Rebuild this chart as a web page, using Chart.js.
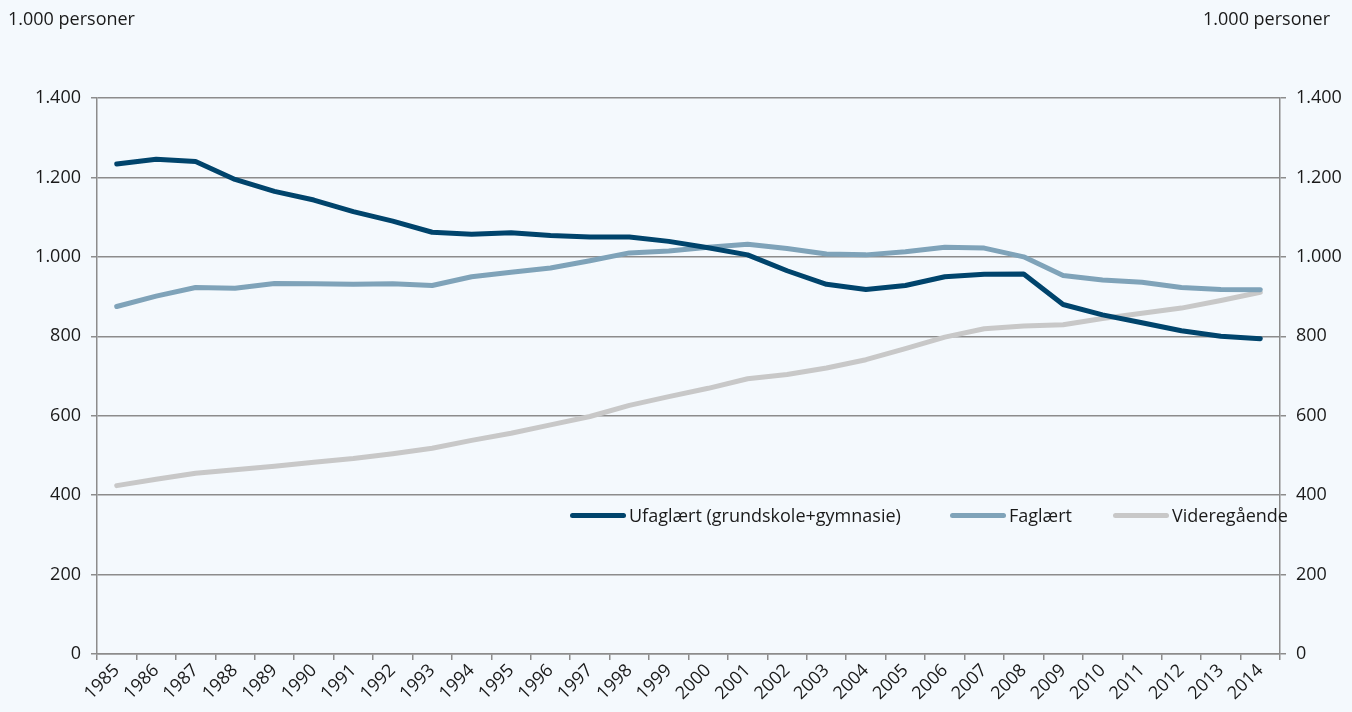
<!DOCTYPE html>
<html lang="da">
<head>
<meta charset="utf-8">
<script src="https://cdn.jsdelivr.net/npm/chart.js@4"></script>
<style>
  html, body { margin: 0; padding: 0; background: #f4f9fd; }
  #wrap { position: relative; width: 1352px; height: 712px; font-family: "Open Sans", sans-serif; color: #1a1a1a; }
  #chart { position: absolute; left: 0; top: 0; }
  .unit { position: absolute; top: 6px; font-size: 18px; }
  .item { position: absolute; top: 503px; display: flex; align-items: center; font-size: 18px; white-space: nowrap; }
  .swatch { width: 56px; height: 5px; border-radius: 3px; margin-right: 3px; }
</style>
</head>
<body>
<div id="wrap">
  <canvas id="chart" width="1352" height="712"></canvas>
  <div class="unit" style="left:8px">1.000 personer</div>
  <div class="unit" style="right:22px">1.000 personer</div>
  <div id="legend"></div>
</div>
<script>
const years = ["1985","1986","1987","1988","1989","1990","1991","1992","1993","1994",
               "1995","1996","1997","1998","1999","2000","2001","2002","2003","2004",
               "2005","2006","2007","2008","2009","2010","2011","2012","2013","2014"];

// 1.000 personer
const ufaglaert = [1234, 1246, 1240, 1195, 1165, 1143, 1114, 1090, 1062, 1057,
                   1061, 1054, 1050, 1050, 1039, 1023, 1005, 965, 931, 918,
                   928, 950, 956, 957, 880, 854, 834, 814, 800, 794];
const faglaert = [875, 901, 923, 921, 933, 932, 931, 932, 928, 950,
                  961, 972, 990, 1010, 1015, 1024, 1032, 1021, 1007, 1005,
                  1013, 1024, 1022, 1000, 953, 942, 936, 923, 918, 917];
const videregaaende = [424, 440, 455, 464, 473, 483, 492, 504, 518, 538,
                       556, 577, 598, 626, 648, 669, 693, 704, 720, 741,
                       769, 798, 819, 826, 829, 845, 858, 871, 890, 911];

const seriesNames = ["Ufaglært (grundskole+gymnasie)", "Faglært", "Videregående"];
const seriesColors = ["#00446c", "#7fa3b9", "#c8c8c8"];
const legendLeft = [570, 950, 1113];

const yTicks = [0, 200, 400, 600, 800, 1000, 1200, 1400];

function fmt(v) {
    return v.toLocaleString("de-DE");
}

const tickFont = { family: "Open Sans", size: 18 };
const gridColor = "#8c8c8c";

const ctx = document.getElementById("chart").getContext("2d");
const chart = new Chart(ctx, {
    type: "line",
    data: {
        labels: years,
        datasets: [ufaglaert, faglaert, videregaaende].map((d, i) => ({
            label: seriesNames[i],
            data: d,
            borderColor: seriesColors[i],
            backgroundColor: seriesColors[i],
            borderWidth: 5,
            borderCapStyle: "round",
            borderJoinStyle: "round",
            pointRadius: 0,
            tension: 0,
            yAxisID: "y",
        })),
    },
    options: {
        responsive: false,
        animation: false,
        layout: { padding: { top: 98, bottom: 0, left: 0, right: 0 } },
        plugins: {
            legend: { display: false },
            tooltip: { enabled: false },
        },
        scales: {
            x: {
                offset: true,
                grid: {
                    offset: true,
                    drawOnChartArea: false,
                    drawTicks: true,
                    tickLength: 6,
                    color: gridColor,
                    lineWidth: 1.5,
                },
                border: { color: gridColor, width: 1.5 },
                ticks: {
                    minRotation: 45,
                    maxRotation: 45,
                    autoSkip: false,
                    color: "#1a1a1a",
                    font: tickFont,
                    padding: 0,
                },
                afterFit: (s) => { s.height = 58; },
            },
            y: {
                position: "left",
                min: 0,
                max: 1400,
                afterBuildTicks: (s) => { s.ticks = yTicks.map((v) => ({ value: v })); },
                grid: { color: gridColor, lineWidth: 1.5, tickLength: 6 },
                border: { color: gridColor, width: 1.5 },
                ticks: {
                    color: "#1a1a1a",
                    font: tickFont,
                    padding: 10,
                    callback: (v) => fmt(v),
                },
                afterFit: (s) => { s.width = 97; },
            },
            y2: {
                position: "right",
                min: 0,
                max: 1400,
                afterBuildTicks: (s) => { s.ticks = yTicks.map((v) => ({ value: v })); },
                grid: { drawOnChartArea: false, color: gridColor, lineWidth: 1.5, tickLength: 6 },
                border: { color: gridColor, width: 1.5 },
                ticks: {
                    color: "#1a1a1a",
                    font: tickFont,
                    padding: 10,
                    callback: (v) => fmt(v),
                },
                afterFit: (s) => { s.width = 72; },
            },
        },
    },
});

// legend inside the plot, built from the datasets
const legend = document.getElementById("legend");
chart.data.datasets.forEach((ds, i) => {
    const item = document.createElement("div");
    item.className = "item";
    item.style.left = legendLeft[i] + "px";
    const sw = document.createElement("span");
    sw.className = "swatch";
    sw.style.background = ds.borderColor;
    const txt = document.createElement("span");
    txt.textContent = ds.label;
    item.appendChild(sw);
    item.appendChild(txt);
    legend.appendChild(item);
});
</script>
</body>
</html>
